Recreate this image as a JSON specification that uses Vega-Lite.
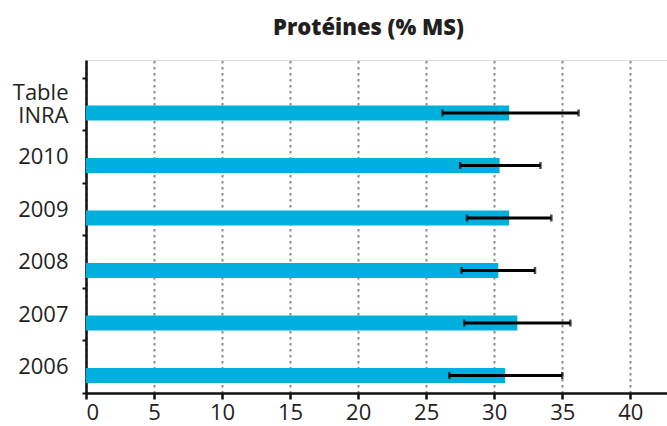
{
  "$schema": "https://vega.github.io/schema/vega-lite/v6.json",
  "autosize": {"type": "none"},
  "padding": {"left": 86, "top": 60, "right": 0, "bottom": 33},
  "width": 581,
  "height": 333,
  "background": "white",
  "title": {
    "text": "Protéines (% MS)",
    "font": "Open Sans",
    "fontSize": 22,
    "fontWeight": 800,
    "color": "#231f20",
    "anchor": "middle",
    "dx": -8,
    "offset": 9
  },
  "data": {
    "values": [
      {"cat": "Table INRA", "val": 31.1, "lo": 26.2, "hi": 36.2},
      {"cat": "2010", "val": 30.4, "lo": 27.5, "hi": 33.4},
      {"cat": "2009", "val": 31.1, "lo": 28.0, "hi": 34.2},
      {"cat": "2008", "val": 30.3, "lo": 27.6, "hi": 33.0},
      {"cat": "2007", "val": 31.7, "lo": 27.8, "hi": 35.6},
      {"cat": "2006", "val": 30.8, "lo": 26.7, "hi": 35.0}
    ]
  },
  "encoding": {
    "y": {
      "field": "cat",
      "type": "nominal",
      "sort": null,
      "scale": {"paddingInner": 0, "paddingOuter": 0.1714, "align": 1},
      "axis": {
        "title": null,
        "labelExpr": "datum.value == 'Table INRA' ? ['Table', 'INRA'] : datum.value",
        "labelFont": "Open Sans",
        "labelFontSize": 22,
        "labelColor": "#231f20",
        "labelLineHeight": 23,
        "labelOffset": {"condition": {"test": "datum.value == 'Table INRA'", "value": -11.5}, "value": 0},
        "labelPadding": 14,
        "tickBand": "extent",
        "tickSize": 4,
        "tickWidth": 2,
        "tickColor": "#111",
        "domainColor": "#111",
        "domainWidth": 2.5,
        "grid": false
      }
    }
  },
  "layer": [
    {
      "mark": {"type": "bar", "color": "#00b0dc", "height": 15, "yOffset": 8.75},
      "encoding": {
        "x": {
          "field": "val",
          "type": "quantitative",
          "scale": {"domain": [0, 42.7], "nice": false, "zero": true},
          "axis": {
            "title": null,
            "values": [0, 5, 10, 15, 20, 25, 30, 35, 40],
            "labelFont": "Open Sans",
            "labelFontSize": 22,
            "labelColor": "#231f20",
            "labelPadding": 3,
            "tickSize": 6,
            "tickWidth": 2.5,
            "tickColor": "#111",
            "domainColor": "#111",
            "domainWidth": 2.5,
            "grid": true,
            "gridColor": "#8a8a8a",
            "gridWidth": 2,
            "gridDash": [2.5, 3.5]
          }
        }
      }
    },
    {
      "mark": {"type": "rule", "color": "black", "strokeWidth": 3, "yOffset": 8.75},
      "encoding": {
        "x": {"field": "lo", "type": "quantitative"},
        "x2": {"field": "hi"}
      }
    },
    {
      "mark": {"type": "tick", "color": "black", "orient": "vertical", "size": 7, "thickness": 2.5, "yOffset": 8.75},
      "encoding": {"x": {"field": "lo", "type": "quantitative"}}
    },
    {
      "mark": {"type": "tick", "color": "black", "orient": "vertical", "size": 7, "thickness": 2.5, "yOffset": 8.75},
      "encoding": {"x": {"field": "hi", "type": "quantitative"}}
    }
  ]
}
